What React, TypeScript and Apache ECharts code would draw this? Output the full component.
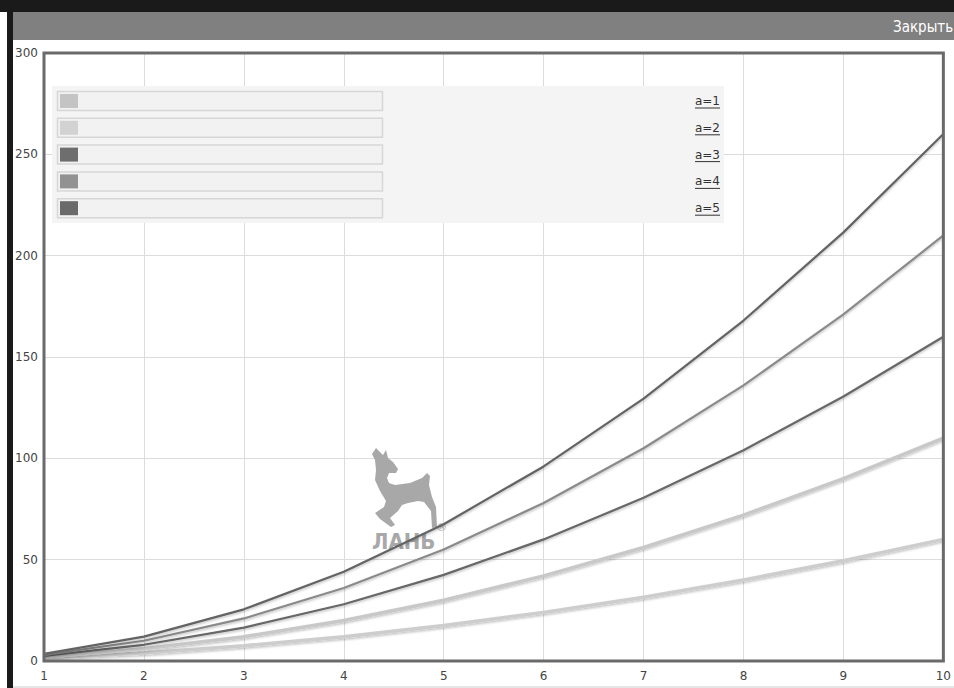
import React, { useEffect, useRef } from "react";
import * as echarts from "echarts";

const xValues = [1, 2, 3, 4, 5, 6, 7, 8, 9, 10];
const seriesNames = ["a=1", "a=2", "a=3", "a=4", "a=5"];
const a1 = [1.5, 4, 7.5, 12, 17.5, 24, 31.5, 40, 49.5, 60];
const a2 = [2, 6, 12, 20, 30, 42, 56, 72, 90, 110];
const a3 = [2.5, 8, 16.5, 28, 42.5, 60, 80.5, 104, 130.5, 160];
const a4 = [3, 10, 21, 36, 55, 78, 105, 136, 171, 210];
const a5 = [3.5, 12, 25.5, 44, 67.5, 96, 129.5, 168, 211.5, 260];
const seriesValues = [a1, a2, a3, a4, a5];
const lineColors = ["#cdcdcd", "#c8c8c8", "#676767", "#8a8a8a", "#646464"];
const swatchColors = ["#c4c4c4", "#d2d2d2", "#6e6e6e", "#929292", "#6a6a6a"];
const headerText = "Закрыть";
const watermarkText = "ЛАНЬ";

const deerPath =
  "M16 3 L23 10 L26 5 L28 13 L33 17 L38 24 L36 28 L29 28 L27 33 L29 38 L35 40 L50 38 L62 33 L67 28 L70 31 L69 40 L72 52 L76 62 L77 82 L72 83 L71 66 L64 57 L58 56 L48 58 L42 60 L38 66 L30 73 L35 80 L31 82 L20 74 L15 68 L24 62 L26 56 L20 46 L15 35 L16 25 L15 15 L12 9 Z";

echarts.graphic.registerShape("deer", echarts.graphic.extendPath(deerPath, {}));

export default function App() {
  const ref = useRef<HTMLDivElement>(null);
  useEffect(() => {
    if (!ref.current) return;
    const chart = echarts.init(ref.current, undefined, { renderer: "svg" });
    const font = "DejaVu Sans, Verdana, sans-serif";

    const legendGraphics: any[] = [
      {
        type: "rect",
        shape: { x: 52, y: 86, width: 672, height: 137 },
        style: { fill: "#f4f4f4" },
        z: 10,
      },
    ];
    seriesNames.forEach((name, i) => {
      const y = 91 + i * 26.8;
      legendGraphics.push({
        type: "rect",
        shape: { x: 57.5, y: y + 0.5, width: 325, height: 19 },
        style: { fill: "#f2f2f2", stroke: "#d6d6d6", lineWidth: 1.5 },
        z: 11,
      });
      legendGraphics.push({
        type: "rect",
        shape: { x: 60, y: y + 3, width: 18, height: 14 },
        style: { fill: swatchColors[i] },
        z: 12,
      });
      legendGraphics.push({
        type: "text",
        x: 720,
        y: y + 10,
        style: {
          text: name,
          fill: "#333",
          font: "12px " + font,
          align: "right",
          verticalAlign: "middle",
        },
        z: 12,
      });
      legendGraphics.push({
        type: "line",
        shape: { x1: 695, y1: y + 17, x2: 720, y2: y + 17 },
        style: { stroke: "#333", lineWidth: 1 },
        z: 12,
      });
    });

    const option: any = {
      animation: false,
      backgroundColor: "#ffffff",
      grid: {
        left: 44,
        right: 9,
        top: 53,
        bottom: 27,
        show: true,
        borderColor: "#6a6a6a",
        borderWidth: 3,
        backgroundColor: "transparent",
        z: 5,
      },
      xAxis: {
        type: "value",
        min: 1,
        max: 10,
        interval: 1,
        axisLine: { show: false },
        axisTick: { show: false },
        axisLabel: { color: "#444", fontSize: 12, fontFamily: font, margin: 9 },
        splitLine: { show: true, lineStyle: { color: "#dcdcdc", width: 1 } },
      },
      yAxis: {
        type: "value",
        min: 0,
        max: 300,
        interval: 50,
        axisLine: { show: false },
        axisTick: { show: false },
        axisLabel: { color: "#444", fontSize: 12, fontFamily: font, margin: 6 },
        splitLine: { show: true, lineStyle: { color: "#dcdcdc", width: 1 } },
      },
      series: seriesValues.map((vals, i) => ({
        type: "line",
        name: seriesNames[i],
        data: xValues.map((x, j) => [x, vals[j]]),
        showSymbol: false,
        symbol: "none",
        z: 3,
        lineStyle: {
          color: lineColors[i],
          width: i < 2 ? 3.5 : 2.2,
          shadowColor: "rgba(0,0,0,0.25)",
          shadowBlur: 2,
          shadowOffsetY: 1.5,
        },
      })),
      graphic: [
        { type: "rect", shape: { x: 0, y: 0, width: 954, height: 12 }, style: { fill: "#1a1a1a" }, z: 20 },
        { type: "rect", shape: { x: 7, y: 0, width: 6, height: 688 }, style: { fill: "#1a1a1a" }, z: 20 },
        { type: "rect", shape: { x: 13, y: 12, width: 941, height: 28 }, style: { fill: "#808080" }, z: 20 },
        {
          type: "text",
          x: 893,
          y: 27,
          style: {
            text: headerText,
            fill: "#ffffff",
            font: "15px 'DejaVu Sans Condensed', 'Liberation Sans Narrow', sans-serif",
            verticalAlign: "middle",
          },
          z: 21,
        },
        { type: "line", shape: { x1: 13, y1: 687, x2: 954, y2: 687 }, style: { stroke: "#cccccc", lineWidth: 1 }, z: 20 },
        {
          type: "deer",
          x: 360,
          y: 445,
          style: { fill: "#a8a8a8" },
          z: 2,
        },
        {
          type: "text",
          x: 372,
          y: 541,
          style: {
            text: watermarkText,
            fill: "#a8a8a8",
            font: "bold 22px 'DejaVu Sans Condensed', sans-serif",
            verticalAlign: "middle",
          },
          z: 2,
        },
        {
          type: "text",
          x: 436,
          y: 527,
          style: { text: "®", fill: "#a8a8a8", font: "11px " + font, verticalAlign: "middle" },
          z: 2,
        },
        ...legendGraphics,
      ],
    };
    chart.setOption(option);
    return () => chart.dispose();
  }, []);
  return (
    <div
      ref={ref}
      style={{ position: "fixed", left: 0, top: 0, width: 954, height: 688 }}
    />
  );
}
